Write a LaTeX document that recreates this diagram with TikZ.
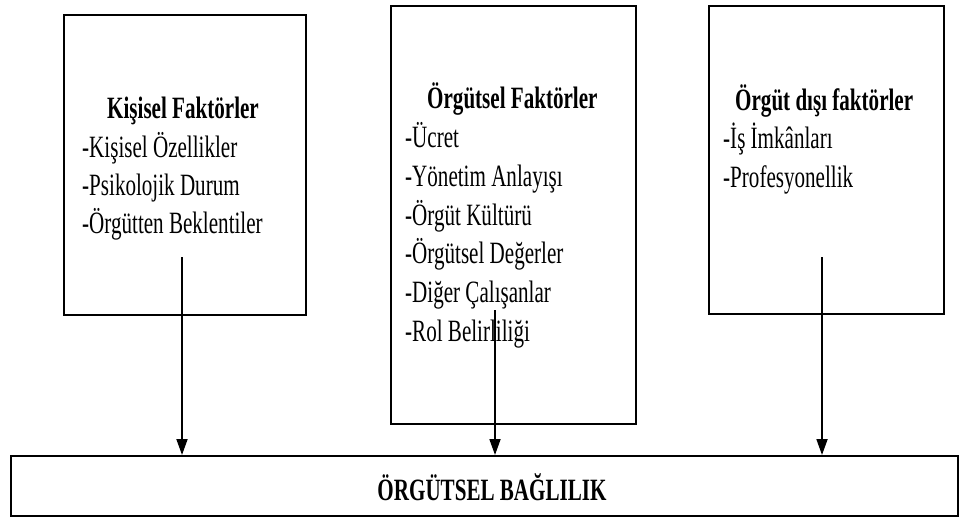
\documentclass[tikz,border=0pt]{standalone}
\usepackage{fontspec}
\setmainfont{Liberation Serif}[FakeStretch=0.68]
\usepackage{tikz}
\usetikzlibrary{arrows.meta}

\begin{document}
\begin{tikzpicture}[x=1pt,y=-1pt,
  kutu/.style={draw, line width=1.6pt, inner sep=0pt, anchor=north west},
  satir/.style={anchor=base west, inner sep=0pt, font=\fontsize{31}{38}\selectfont},
  baslik/.style={satir, font=\fontsize{31}{38}\selectfont\bfseries},
  ok/.style={-{Triangle[length=16pt,width=11pt]}, line width=1.8pt}]
\useasboundingbox (0,0) rectangle (960,517);
% kutular
\node[kutu, minimum width=242pt, minimum height=300pt] (kisisel) at (63,14) {};
\node[kutu, minimum width=245pt, minimum height=418pt] (orgutsel) at (390,5) {};
\node[kutu, minimum width=235pt, minimum height=308pt] (disi) at (708,5) {};
\node[kutu, minimum width=947pt, minimum height=60pt] (bag) at (10,455) {};
% metinler
\node[baslik] (k0) at (107,118) {Kişisel Faktörler};
\node[satir] (k1) at (82,157) {-Kişisel Özellikler};
\node[satir] (k2) at (82,195) {-Psikolojik Durum};
\node[satir] (k3) at (82,233) {-Örgütten Beklentiler};
\node[baslik] (o0) at (427,108) {Örgütsel Faktörler};
\node[satir] (o1) at (405,147) {-Ücret};
\node[satir] (o2) at (405,186) {-Yönetim Anlayışı};
\node[satir] (o3) at (405,225) {-Örgüt Kültürü};
\node[satir] (o4) at (405,263) {-Örgütsel Değerler};
\node[satir] (o5) at (405,302) {-Diğer Çalışanlar};
\node[satir] (o6) at (405,341) {-Rol Belirliliği};
\node[baslik] (d0) at (735,110) {Örgüt dışı faktörler};
\node[satir] (d1) at (723,148) {-İş İmkânları};
\node[satir] (d2) at (723,187) {-Profesyonellik};
\node[baslik, anchor=base] (b0) at (492,500) {ÖRGÜTSEL BAĞLILIK};
% oklar
\coordinate (a1) at (182,257);
\coordinate (a2) at (495,310);
\coordinate (a3) at (822,257);
\draw[ok] (a1) -- (a1 |- bag.north);
\draw[ok] (a2) -- (a2 |- bag.north);
\draw[ok] (a3) -- (a3 |- bag.north);
\end{tikzpicture}
\end{document}
